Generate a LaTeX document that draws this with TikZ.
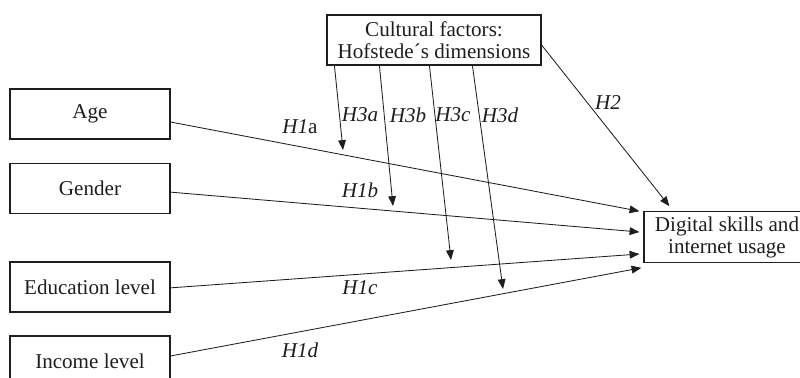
\documentclass[tikz,border=0pt]{standalone}
\usepackage{fontspec}
\setmainfont{Liberation Serif}
\usepackage{xcolor}
\usetikzlibrary{arrows.meta, positioning, calc}
\definecolor{inkDark}{RGB}{30, 30, 30}

\begin{document}
\begin{tikzpicture}[
    node distance=0.585cm,
    % Node styles
    factor/.style={
        rectangle,
        draw=inkDark,
        line width=0.8pt,
        minimum width=4cm,
        minimum height=1.25cm,
        text centered,
        align=center,
        font=\fontsize{15}{15.6}\selectfont,
        text=inkDark
    },
    hyp/.style={
        font=\fontsize{15}{15.6}\selectfont\itshape,
        text=inkDark,
        inner sep=1pt
    },
    arrow/.style={
        -{Triangle[length=7pt,width=5.5pt]},
        line width=0.6pt,
        color=inkDark
    }
]
\useasboundingbox (0,0) rectangle (20,-9.425);

% Antecedents - left column
\node[factor] (age) at (2.25,-2.85) {Age};
\node[factor, below=of age] (gender) {Gender};
\node[factor, below=1.185cm of gender] (edu) {Education level};
\node[factor, below=0.57cm of edu] (income) {Income level};

% Moderator and outcome
\node[factor, minimum width=5.35cm] (cult) at (10.85,-1.0) {Cultural factors:\\Hofstede´s dimensions};
\node[factor, minimum width=4.15cm] (dig) at (18.175,-5.925) {Digital skills and\\internet usage};

% Ends of moderating arrows
\coordinate (m3a) at (8.575,-3.75);
\coordinate (m3b) at (9.825,-5.15);
\coordinate (m3c) at (11.275,-6.5);
\coordinate (m3d) at (12.575,-7.225);

% Direct effects
\draw[arrow] ([yshift=-0.2cm]age.east) -- ([xshift=-0.1cm]dig.north west);
\draw[arrow] ([yshift=-0.09cm]gender.east) -- ([shift={(-0.1,0.125)}]dig.west);
\draw[arrow] ([yshift=-0.02cm]edu.east) -- ([shift={(-0.1,-0.425)}]dig.west);
\draw[arrow] ([yshift=0.125cm]income.east) -- ([shift={(-0.05,-0.125)}]dig.south west);
\draw[arrow] ([yshift=-0.125cm]cult.east) -- ([shift={(0.65,0.125)}]dig.north west);

% Moderating effects
\draw[arrow] ([xshift=0.2cm]cult.south west) -- (m3a);
\draw[arrow] ([xshift=1.325cm]cult.south west) -- (m3b);
\draw[arrow] ([xshift=2.575cm]cult.south west) -- (m3c);
\draw[arrow] ([xshift=3.65cm]cult.south west) -- (m3d);

% Hypothesis labels
\node[hyp] (h1a) at (7.5,-3.175) {H1\upshape a};
\node[hyp] (h1b) at (9.0,-4.75) {H1b};
\node[hyp] (h1c) at (9.0,-7.2) {H1c};
\node[hyp] (h1d) at (7.5,-8.75) {H1d};
\node[hyp] (h2) at (15.2,-2.575) {H2};
\node[hyp] (h3a) at (9.0,-2.875) {H3a};
\node[hyp] (h3b) at (10.2,-2.875) {H3b};
\node[hyp] (h3c) at (11.325,-2.875) {H3c};
\node[hyp] (h3d) at (12.5,-2.875) {H3d};

\end{tikzpicture}
\end{document}
